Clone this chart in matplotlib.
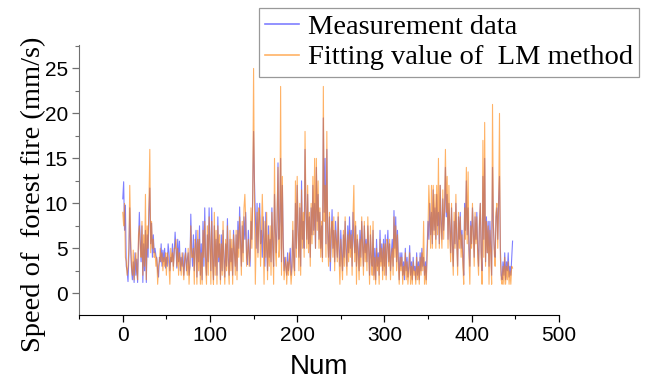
import numpy as np
import matplotlib
matplotlib.use('Agg')
from matplotlib import pyplot as plt
from matplotlib.ticker import MultipleLocator

# measured spread speed, one value per sample
measured = [
    10.5, 12.4, 7.0, 9.8, 3.0, 2.5, 1.3, 4.2, 9.5, 5.0, 2.8, 1.5, 3.5, 1.2, 4.5, 2.0, 3.8, 1.2, 5.5, 9.0,
    6.0, 3.5, 7.5, 1.2, 5.5, 2.5, 7.0, 1.2, 6.5, 4.0, 9.0, 11.7, 5.5, 7.8, 4.0, 6.5, 4.5, 5.0, 4.2, 3.8,
    2.5, 1.8, 4.0, 3.5, 5.5, 3.0, 4.8, 3.5, 5.0, 2.8, 4.0, 3.0, 5.5, 4.5, 2.5, 4.0, 3.5, 5.5, 3.0, 4.5,
    6.8, 5.0, 2.8, 6.0, 3.5, 5.8, 2.5, 4.0, 3.0, 4.5, 2.0, 3.5, 5.0, 2.5, 3.8, 4.5, 2.0, 3.0, 8.8, 5.0,
    3.0, 6.5, 2.5, 5.0, 7.0, 1.8, 6.0, 3.5, 7.5, 2.0, 5.5, 1.5, 8.0, 3.0, 9.5, 4.0, 2.0, 6.5, 3.5, 9.5,
    5.0, 2.5, 9.5, 4.0, 1.5, 7.5, 3.0, 6.0, 2.0, 8.5, 3.5, 5.5, 1.5, 6.5, 2.5, 7.0, 4.0, 1.8, 5.5, 3.0,
    8.3, 4.0, 2.0, 6.0, 3.5, 5.0, 2.0, 7.0, 4.5, 3.0, 6.5, 2.5, 8.0, 5.0, 9.6, 6.0, 3.0, 7.5, 4.5, 8.5,
    6.0, 9.0, 4.0, 3.2, 7.0, 4.5, 3.0, 8.0, 6.0, 11.0, 18.0, 12.5, 8.5, 5.0, 10.0, 4.5, 8.0, 10.0, 5.5, 7.0,
    4.0, 8.5, 6.0, 3.0, 9.0, 5.0, 2.5, 7.5, 4.0, 6.0, 3.5, 9.5, 5.0, 3.0, 11.0, 7.0, 4.5, 8.0, 14.5, 6.0,
    8.0, 15.0, 3.5, 12.0, 6.0, 2.5, 4.0, 3.0, 2.0, 4.5, 2.5, 3.5, 5.0, 2.0, 3.0, 7.0, 4.0, 2.5, 10.0, 5.0,
    12.0, 7.0, 4.0, 9.5, 3.0, 12.5, 6.0, 8.0, 5.0, 16.0, 9.0, 6.0, 11.0, 5.5, 8.5, 4.0, 9.5, 6.5, 12.0, 7.0,
    10.0, 5.0, 14.0, 8.0, 11.0, 6.0, 9.0, 5.0, 7.5, 4.0, 19.5, 9.0, 15.0, 5.5, 16.0, 7.0, 4.0, 8.5, 2.5, 6.0,
    9.3, 5.0, 7.0, 3.5, 8.0, 6.0, 4.0, 8.5, 5.0, 3.0, 7.0, 4.5, 2.5, 6.5, 4.0, 8.0, 5.0, 3.0, 7.5, 4.5,
    8.5, 5.0, 7.0, 3.0, 9.0, 6.0, 4.5, 7.5, 3.0, 6.0, 5.0, 2.5, 7.0, 4.0, 8.0, 5.5, 3.0, 7.5, 4.5, 6.0,
    3.5, 7.5, 5.0, 2.0, 6.5, 4.0, 3.0, 7.0, 2.0, 5.0, 1.5, 6.0, 3.0, 4.5, 2.0, 7.0, 3.5, 5.5, 2.5, 6.0,
    3.0, 6.5, 2.0, 5.0, 7.0, 3.5, 5.5, 2.5, 4.5, 6.0, 3.0, 9.2, 5.0, 8.5, 3.5, 7.0, 4.0, 1.5, 4.5, 3.0,
    4.5, 2.0, 3.5, 1.5, 5.0, 2.5, 4.0, 1.8, 3.0, 5.3, 2.0, 3.5, 1.5, 4.0, 2.5, 3.0, 1.5, 4.5, 2.0, 3.5,
    1.5, 4.5, 2.5, 5.0, 3.0, 4.0, 2.0, 3.5, 1.5, 5.0, 8.0, 6.0, 10.0, 6.5, 9.0, 5.5, 11.5, 7.0, 9.5, 6.0,
    11.0, 7.5, 9.0, 5.5, 12.0, 8.0, 6.0, 10.5, 7.0, 9.0, 14.0, 8.5, 11.0, 6.0, 10.0, 7.5, 4.5, 9.5, 5.5, 3.0,
    8.0, 5.5, 10.0, 6.0, 3.0, 8.5, 6.0, 9.0, 5.0, 7.0, 4.0, 2.0, 10.0, 7.0, 12.5, 6.5, 9.5, 5.0, 3.0, 8.0,
    5.5, 9.5, 7.0, 4.0, 8.5, 6.0, 9.0, 5.0, 3.0, 7.5, 10.0, 4.5, 2.5, 13.0, 6.0, 15.0, 3.5, 8.5, 4.5, 8.0,
    3.0, 8.0, 5.0, 2.0, 14.0, 7.5, 5.0, 4.0, 8.5, 9.5, 6.0, 10.5, 13.0, 5.0, 2.0, 1.5, 3.5, 2.0, 4.5, 1.5,
    3.5, 2.5, 4.5, 1.8, 3.0, 2.0, 4.0, 5.8,
]

# Levenberg-Marquardt fitted speed
lm_fit = [
    9.0, 7.5, 10.0, 4.0, 3.5, 2.0, 3.0, 5.0, 12.0, 6.5, 3.0, 2.0, 4.8, 1.5, 3.5, 4.5, 2.5, 1.5, 6.5, 7.5,
    5.0, 4.0, 8.0, 2.0, 6.5, 3.0, 11.0, 1.5, 7.5, 5.0, 10.0, 16.0, 4.5, 8.0, 5.0, 6.0, 4.0, 4.5, 3.0, 4.0,
    1.0, 3.0, 3.5, 5.0, 3.5, 4.5, 2.5, 4.0, 3.0, 4.5, 2.0, 4.5, 4.0, 3.0, 1.0, 5.0, 3.5, 4.5, 2.5, 5.0,
    5.0, 6.0, 3.0, 5.0, 2.0, 4.5, 3.5, 2.0, 4.5, 3.0, 1.5, 4.0, 4.5, 3.0, 2.0, 5.0, 1.0, 3.5, 7.5, 4.0,
    4.0, 5.0, 1.0, 6.0, 5.5, 1.0, 7.0, 2.5, 6.0, 1.0, 4.5, 1.0, 7.0, 4.0, 8.0, 3.0, 1.0, 7.5, 2.0, 8.5,
    6.0, 1.0, 8.0, 3.0, 1.0, 9.0, 2.0, 7.0, 1.0, 7.5, 4.0, 6.5, 1.0, 5.5, 2.0, 8.0, 3.0, 1.0, 6.0, 2.5,
    7.5, 3.0, 1.0, 7.0, 2.5, 6.0, 1.0, 6.5, 5.0, 2.0, 7.0, 1.5, 7.0, 4.0, 8.5, 5.5, 2.0, 8.0, 3.5, 9.5,
    11.0, 8.0, 3.0, 4.5, 6.0, 3.0, 4.0, 9.5, 5.0, 10.5, 25.0, 10.0, 1.0, 6.0, 9.0, 4.0, 9.5, 8.5, 3.0, 6.5,
    11.0, 7.0, 1.0, 8.0, 4.0, 9.0, 1.5, 6.5, 3.0, 7.5, 2.0, 9.0, 6.0, 1.0, 15.0, 5.0, 3.0, 9.0, 14.0, 4.0,
    5.0, 23.0, 2.0, 13.0, 5.0, 1.5, 3.0, 4.0, 1.0, 3.5, 2.0, 4.5, 3.0, 1.0, 2.5, 8.0, 3.0, 2.0, 12.5, 4.0,
    13.0, 8.0, 2.5, 10.0, 2.0, 11.5, 5.0, 9.0, 4.0, 18.0, 10.0, 5.0, 12.0, 4.5, 9.0, 3.0, 10.0, 5.5, 13.0, 6.5,
    15.0, 5.0, 15.0, 7.0, 12.5, 5.0, 9.5, 4.0, 8.0, 3.5, 23.0, 8.0, 12.0, 4.0, 18.0, 6.0, 3.0, 9.0, 3.5, 7.0,
    8.0, 4.0, 8.5, 2.5, 7.0, 5.5, 3.5, 9.0, 4.0, 1.0, 6.0, 3.5, 1.5, 7.0, 3.0, 8.5, 4.0, 2.0, 6.5, 3.5,
    7.0, 4.0, 6.5, 2.0, 8.5, 12.0, 3.5, 8.0, 1.0, 6.5, 4.0, 1.5, 6.0, 3.0, 8.5, 5.0, 2.0, 8.0, 3.5, 5.5,
    2.5, 8.5, 4.5, 1.0, 7.5, 3.5, 2.0, 8.0, 1.5, 4.0, 1.0, 5.0, 2.5, 4.0, 1.0, 6.0, 3.0, 5.0, 1.5, 5.5,
    2.0, 5.5, 1.5, 6.0, 5.5, 3.0, 6.0, 1.5, 4.0, 5.0, 2.0, 8.5, 4.0, 7.5, 2.5, 6.5, 3.0, 1.0, 4.0, 2.5,
    4.0, 1.0, 3.0, 2.0, 4.5, 1.5, 3.5, 1.0, 2.5, 4.5, 1.0, 3.0, 1.0, 3.5, 2.0, 2.5, 1.0, 4.0, 1.5, 3.0,
    1.0, 4.0, 2.0, 4.5, 2.5, 8.0, 1.0, 3.0, 1.0, 4.0, 7.0, 12.0, 9.0, 5.0, 12.0, 5.0, 12.0, 6.5, 11.0, 5.0,
    12.0, 6.5, 15.0, 5.0, 12.0, 7.0, 5.0, 11.5, 6.0, 9.5, 16.0, 9.0, 13.0, 5.0, 12.0, 7.0, 3.5, 10.0, 4.5, 2.0,
    9.0, 5.0, 11.0, 5.5, 2.0, 9.0, 5.0, 8.5, 4.0, 6.5, 3.0, 1.0, 9.5, 6.0, 14.0, 5.5, 13.5, 4.0, 1.0, 7.5,
    5.0, 10.0, 6.5, 3.0, 9.0, 5.5, 8.5, 4.0, 2.0, 8.0, 10.0, 4.0, 1.0, 17.0, 4.0, 19.0, 3.0, 8.0, 4.5, 7.5,
    1.0, 7.0, 4.5, 1.0, 21.0, 8.0, 4.5, 3.0, 9.0, 10.0, 5.0, 9.5, 20.0, 4.0, 1.5, 1.0, 3.0, 1.0, 4.0, 1.0,
    3.0, 1.5, 3.5, 1.0, 2.5, 1.0, 3.0, 2.8,
]

num = np.arange(len(measured))

fig = plt.figure(figsize=(6.49, 3.85), dpi=100)
ax = fig.add_axes([0.122, 0.181, 0.739, 0.702])

l1, = ax.plot(num, measured, color='#0000ff', alpha=0.5, lw=0.8, label='Measurement data')
l2, = ax.plot(num, lm_fit, color='#ff8000', alpha=0.6, lw=0.8, label='Fitting value of  LM method')

ax.set_xlim(-50, 500)
ax.set_ylim(-2.45, 27.6)
ax.xaxis.set_major_locator(MultipleLocator(100))
ax.xaxis.set_minor_locator(MultipleLocator(50))
ax.yaxis.set_major_locator(MultipleLocator(5))
ax.yaxis.set_minor_locator(MultipleLocator(2.5))

for side in ['top', 'right']:
    ax.spines[side].set_visible(False)
ax.spines['left'].set_color('#707070')
ax.spines['bottom'].set_color('black')
ax.tick_params(which='major', direction='out', length=5, width=0.9,
               labelsize=15, pad=3)
ax.tick_params(which='minor', direction='out', length=3, width=0.8)
ax.tick_params(axis='y', which='both', color='#707070')
for lab in ax.get_xticklabels() + ax.get_yticklabels():
    lab.set_family('Liberation Sans')

ax.set_xlabel('Num', family='Liberation Sans', fontsize=20, labelpad=6)
ax.set_ylabel('Speed of  forest fire (mm/s)', family='Liberation Serif', fontsize=20.5)
ax.yaxis.set_label_coords(-0.07, 0.448)

leg = fig.legend(handles=[l1, l2], loc='upper right', bbox_to_anchor=(0.985, 0.979),
                 prop={'family': 'Liberation Serif', 'size': 20.5}, frameon=True,
                 fancybox=False, edgecolor='#808080', handlelength=1.2,
                 handletextpad=0.3, labelspacing=0.15, borderpad=0.22, borderaxespad=0)
leg.get_frame().set_linewidth(0.9)
for h in leg.get_lines():
    h.set_linewidth(1.2)

fig.savefig('out.png', dpi=100)
